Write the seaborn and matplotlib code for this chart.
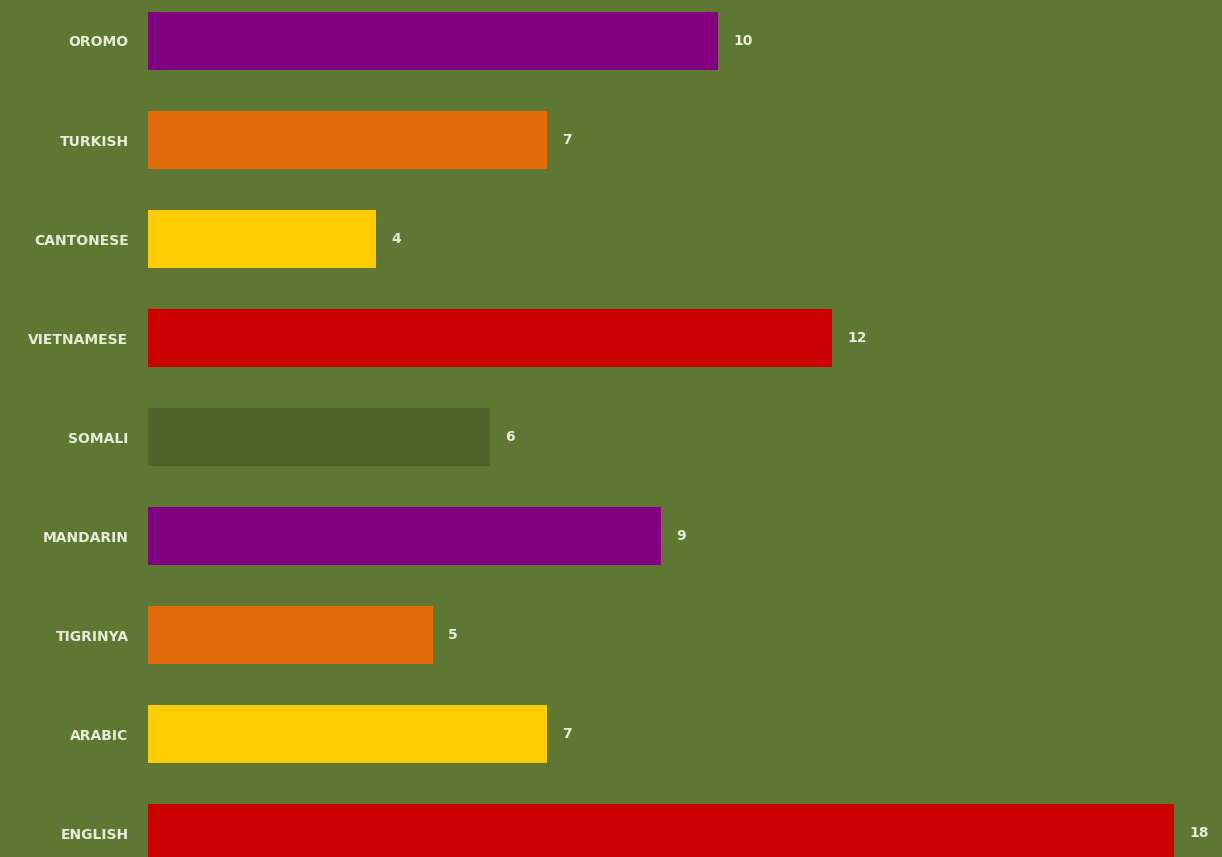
import matplotlib
matplotlib.use("Agg")
import matplotlib.pyplot as plt
import seaborn as sns
import pandas as pd

languages = ["OROMO", "TURKISH", "CANTONESE", "VIETNAMESE", "SOMALI",
             "MANDARIN", "TIGRINYA", "ARABIC", "ENGLISH"]
counts = [10, 7, 4, 12, 6, 9, 5, 7, 18]
bar_colors = ["#800080", "#E36C0A", "#FFCC00", "#CC0000", "#4F6228",
              "#800080", "#E36C0A", "#FFCC00", "#CC0000"]

bg = "#5E7833"
text_color = "#E6EDD8"

sns.set_theme(style="white")
plt.rcParams["font.family"] = ["DejaVu Sans"]

df = pd.DataFrame({"language": languages, "count": counts})

fig = plt.figure(figsize=(12.22, 8.57), dpi=100)
fig.patch.set_facecolor(bg)
ax = fig.add_axes([148 / 1222, 0, 1074 / 1222, 1])
ax.set_facecolor(bg)

sns.barplot(data=df, x="count", y="language", hue="language",
            palette=bar_colors, order=languages, hue_order=languages,
            orient="h", width=0.59, legend=False, saturation=1,
            linewidth=0, edgecolor="none", ax=ax)

ax.set_xlim(0, 1074 / 57)
ax.set_ylim(8.24, -0.414)

for container in ax.containers:
    labels = ax.bar_label(container, padding=11, color=text_color,
                          fontsize=10, fontweight="bold")
    for t in labels:
        t.set_va("center")

ax.set_xlabel("")
ax.set_ylabel("")
ax.set_xticks([])
ax.tick_params(axis="y", length=0, pad=14, labelsize=10, labelcolor=text_color)
for lbl in ax.get_yticklabels():
    lbl.set_fontweight("bold")
for spine in ax.spines.values():
    spine.set_visible(False)

fig.savefig("out.png", dpi=100, facecolor=bg)
